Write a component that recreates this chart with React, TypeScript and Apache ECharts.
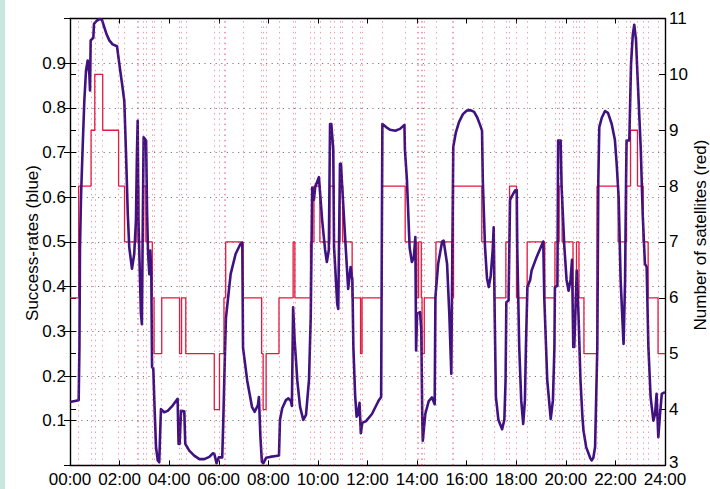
import React, { useEffect, useRef } from "react";
import * as echarts from "echarts";

const hourTicks = ["00:00", "02:00", "04:00", "06:00", "08:00", "10:00", "12:00", "14:00", "16:00", "18:00", "20:00", "22:00", "24:00"];

const blueTime = [
  0, 0.35, 0.38, 0.403, 0.444, 0.511, 0.578, 0.645, 0.713, 0.78, 0.807, 0.834, 0.941, 0.968, 1.075, 1.21, 1.29, 1.385, 1.48, 1.586,
  1.72, 1.896, 1.99, 2.1, 2.19, 2.26, 2.33, 2.39, 2.5, 2.59, 2.66, 2.7, 2.73, 2.76, 2.86, 2.9, 2.94, 2.97, 3.07, 3.11,
  3.15, 3.2, 3.24, 3.28, 3.31, 3.36, 3.42, 3.47, 3.54, 3.6, 3.64, 3.67, 3.8, 3.94, 4.14, 4.34, 4.38, 4.42, 4.48, 4.61,
  4.65, 4.81, 5.01, 5.22, 5.42, 5.62, 5.76, 5.82, 5.91, 6.0, 6.14, 6.18, 6.24, 6.29, 6.35, 6.48, 6.68, 6.88, 6.95, 6.98,
  7.15, 7.34, 7.45, 7.58, 7.62, 7.68, 7.74, 7.8, 7.91, 8.07, 8.31, 8.43, 8.47, 8.56, 8.71, 8.81, 8.91, 8.95, 9.0, 9.06,
  9.17, 9.28, 9.41, 9.52, 9.57, 9.64, 9.71, 9.77, 9.84, 9.89, 10.04, 10.17, 10.29, 10.36, 10.44, 10.49, 10.54, 10.62, 10.65, 10.78,
  10.82, 10.89, 10.93, 10.98, 11.12, 11.22, 11.32, 11.39, 11.43, 11.5, 11.56, 11.6, 11.68, 11.73, 11.79, 11.94, 12.18, 12.34, 12.46, 12.55,
  12.6, 12.75, 12.91, 13.12, 13.31, 13.49, 13.51, 13.59, 13.7, 13.79, 13.87, 13.93, 13.96, 14.0, 14.12, 14.17, 14.21, 14.23, 14.33, 14.47,
  14.6, 14.71, 14.74, 14.85, 15.01, 15.07, 15.21, 15.3, 15.38, 15.46, 15.56, 15.69, 15.85, 16.01, 16.15, 16.3, 16.43, 16.54, 16.62, 16.65,
  16.74, 16.82, 16.89, 16.97, 17.05, 17.09, 17.13, 17.18, 17.28, 17.43, 17.52, 17.57, 17.6, 17.69, 17.75, 17.83, 17.95, 18.02, 18.04, 18.12,
  18.2, 18.28, 18.35, 18.39, 18.45, 18.56, 18.62, 18.82, 19.09, 19.13, 19.25, 19.39, 19.48, 19.54, 19.56, 19.66, 19.69, 19.79, 19.83, 19.94,
  20.03, 20.11, 20.19, 20.25, 20.3, 20.34, 20.44, 20.51, 20.59, 20.67, 20.71, 20.82, 20.98, 21.04, 21.11, 21.18, 21.27, 21.31, 21.35, 21.45,
  21.58, 21.7, 21.85, 21.98, 22.05, 22.13, 22.21, 22.32, 22.33, 22.39, 22.43, 22.45, 22.56, 22.63, 22.7, 22.76, 22.83, 22.9, 23.02, 23.1,
  23.19, 23.26, 23.33, 23.42, 23.53, 23.6, 23.66, 23.73, 23.8, 23.87, 24.0,
];

const blueRate = [
  0.142, 0.146, 0.264, 0.488, 0.6, 0.712, 0.816, 0.883, 0.906, 0.876, 0.839, 0.951, 0.957, 0.988, 0.995, 0.999, 0.997, 0.98, 0.964, 0.951,
  0.942, 0.938, 0.898, 0.854, 0.816, 0.697, 0.563, 0.488, 0.44, 0.473, 0.548, 0.697, 0.771, 0.55, 0.34, 0.316, 0.563, 0.734, 0.727, 0.563,
  0.473, 0.428, 0.481, 0.428, 0.22, 0.216, 0.115, 0.041, 0.011, 0.007, 0.078, 0.126, 0.119, 0.122, 0.134, 0.149, 0.048, 0.048, 0.122, 0.121,
  0.048, 0.033, 0.022, 0.014, 0.014, 0.019, 0.027, 0.026, 0.005, 0.018, 0.018, 0.093, 0.229, 0.33, 0.361, 0.428, 0.473, 0.496, 0.498, 0.263,
  0.189, 0.131, 0.12, 0.135, 0.153, 0.064, 0.008, 0.005, 0.017, 0.019, 0.021, 0.022, 0.102, 0.128, 0.146, 0.15, 0.144, 0.133, 0.354, 0.281,
  0.189, 0.131, 0.102, 0.113, 0.146, 0.191, 0.331, 0.622, 0.594, 0.623, 0.645, 0.549, 0.482, 0.455, 0.482, 0.764, 0.764, 0.706, 0.489, 0.361,
  0.35, 0.675, 0.675, 0.623, 0.489, 0.395, 0.444, 0.415, 0.265, 0.158, 0.109, 0.112, 0.14, 0.072, 0.095, 0.099, 0.115, 0.133, 0.146, 0.153,
  0.764, 0.757, 0.751, 0.749, 0.753, 0.762, 0.706, 0.639, 0.487, 0.455, 0.466, 0.511, 0.257, 0.339, 0.343, 0.303, 0.102, 0.055, 0.115, 0.144,
  0.152, 0.137, 0.377, 0.451, 0.501, 0.503, 0.451, 0.339, 0.205, 0.713, 0.744, 0.768, 0.786, 0.794, 0.795, 0.791, 0.778, 0.762, 0.749, 0.639,
  0.489, 0.419, 0.399, 0.424, 0.482, 0.533, 0.339, 0.153, 0.102, 0.081, 0.102, 0.191, 0.365, 0.369, 0.594, 0.603, 0.615, 0.616, 0.489, 0.265,
  0.146, 0.093, 0.146, 0.265, 0.399, 0.415, 0.436, 0.466, 0.501, 0.377, 0.191, 0.104, 0.146, 0.265, 0.399, 0.402, 0.727, 0.727, 0.623, 0.489,
  0.415, 0.391, 0.415, 0.46, 0.265, 0.265, 0.436, 0.339, 0.191, 0.108, 0.079, 0.041, 0.017, 0.011, 0.017, 0.041, 0.265, 0.639, 0.757, 0.778,
  0.793, 0.789, 0.764, 0.728, 0.675, 0.6, 0.415, 0.281, 0.272, 0.415, 0.639, 0.727, 0.727, 0.898, 0.963, 0.986, 0.952, 0.861, 0.712, 0.563,
  0.451, 0.444, 0.265, 0.153, 0.1, 0.115, 0.16, 0.063, 0.115, 0.16, 0.164,
];

const satTime = [
  0, 0.35, 0.85, 1.0, 1.32, 1.96, 2.2, 2.7, 2.77, 2.97, 3.06, 3.32, 3.39, 3.7, 4.42, 4.5, 4.67, 5.82, 6.03, 6.21,
  6.28, 6.98, 7.73, 7.79, 7.91, 8.43, 9.0, 9.07, 9.7, 9.84, 10.08, 10.48, 10.65, 10.89, 11.0, 11.38, 11.72, 11.78, 12.58, 13.52,
  13.99, 14.06, 14.17, 14.2, 14.29, 14.76, 15.4, 15.47, 16.61, 17.12, 17.58, 17.73, 18.01, 18.44, 19.15, 19.56, 19.73, 19.85, 20.29, 20.43,
  20.53, 20.73, 21.26, 22.11, 22.45, 22.61, 22.89, 23.12, 23.32, 23.72,
];

const satCount = [
  6, 8, 9, 10, 9, 8, 7, 8, 7, 8, 7, 6, 5, 6, 5, 6, 5, 4, 5, 6,
  7, 6, 5, 4, 5, 6, 7, 6, 7, 8, 7, 8, 7, 8, 7, 6, 5, 6, 8, 7,
  6, 7, 6, 5, 6, 7, 6, 8, 7, 6, 7, 8, 6, 7, 6, 7, 8, 7, 6, 7,
  6, 5, 8, 7, 8, 9, 8, 7, 6, 5,
];

export default function App() {
  const ref = useRef<HTMLDivElement>(null);

  useEffect(() => {
    if (!ref.current) return;
    const chart = echarts.init(ref.current, undefined, { renderer: "svg" });
    const FONT = "'Liberation Sans', Arial, Helvetica, sans-serif";

    const blueData = blueTime.map((t, i) => [t, blueRate[i]]);
    const redData = satTime.map((t, i) => [t, satCount[i]]);
    redData.push([24, satCount[satCount.length - 1]]);
    const vlines = satTime.slice(1).map((t) => ({ xAxis: t }));

    const axisLine = { show: true, onZero: false, lineStyle: { color: "#000", width: 1.4 } };
    const tick = { show: true, inside: true, length: 6, lineStyle: { color: "#000", width: 1 } };
    const labelBase = { fontSize: 17, color: "#000", fontFamily: FONT, lineHeight: 13 };

    chart.setOption({
      animation: false,
      backgroundColor: "#ffffff",
      grid: { left: 70, right: 45, top: 18.5, bottom: 23.6, containLabel: false },
      xAxis: [
        {
          type: "value", min: 0, max: 24, interval: 2, position: "bottom",
          axisLine, axisTick: { ...tick, length: 5 }, splitLine: { show: false },
          axisLabel: { ...labelBase, margin: 7.5, formatter: (v: number) => hourTicks[Math.round(v / 2)] },
        },
        {
          type: "value", min: 0, max: 24, interval: 2, position: "top",
          axisLine, axisTick: { ...tick, length: 5 }, splitLine: { show: false }, axisLabel: { show: false },
        },
      ],
      yAxis: [
        {
          type: "value", min: 0, max: 1, interval: 0.1, position: "left",
          axisLine, axisTick: tick,
          axisLabel: { ...labelBase, margin: 4, formatter: (v: number) => (v < 0.05 || v > 0.95 ? "" : v.toFixed(1)) },
          splitLine: { show: true, lineStyle: { color: "#7a7a7a", width: 1, type: [1.2, 4.4] } },
        },
        {
          type: "value", min: 3, max: 11, interval: 1, position: "right",
          axisLine, axisTick: tick,
          axisLabel: {
            ...labelBase, margin: 4,
            formatter: (v: number) => (v === 3 ? "{lo|3}" : String(v)),
            rich: { lo: { fontSize: 17, fontFamily: FONT, color: "#000", lineHeight: 13, padding: [0, 0, 5, 0] } },
          },
          splitLine: { show: false },
        },
        {
          type: "value", min: 0, max: 1, interval: 0.1, position: "right",
          axisLine: { show: false }, axisTick: tick, axisLabel: { show: false }, splitLine: { show: false },
        },
        {
          type: "value", min: 3, max: 11, interval: 1, position: "left",
          axisLine: { show: false }, axisTick: tick, axisLabel: { show: false }, splitLine: { show: false },
        },
      ],
      series: [
        {
          name: "satellites", type: "line", yAxisIndex: 1, data: redData, step: "end",
          symbol: "none", showSymbol: false, z: 3,
          lineStyle: { color: "#e4173f", width: 1.3 },
          markLine: {
            silent: true, symbol: ["none", "none"], label: { show: false }, animation: false,
            lineStyle: { color: "rgba(232,40,80,0.45)", width: 1, type: [1.5, 3.9] },
            data: vlines,
          },
        },
        {
          name: "success", type: "line", yAxisIndex: 0, data: blueData,
          symbol: "none", showSymbol: false, z: 4,
          lineStyle: { color: "#3f1282", width: 2.6, join: "round" },
        },
      ],
      graphic: [
        { type: "rect", shape: { x: 0, y: 0, width: 5, height: 489 }, style: { fill: "#cbe5df" }, silent: true },
        {
          type: "text", x: 32, y: 243, rotation: Math.PI / 2,
          style: { text: "Success-rates (blue)", font: `17px ${FONT}`, fill: "#000", align: "center", verticalAlign: "middle" },
        },
        {
          type: "text", x: 700, y: 235, rotation: Math.PI / 2,
          style: { text: "Number of satellites (red)", font: `17px ${FONT}`, fill: "#000", align: "center", verticalAlign: "middle" },
        },
      ],
    });

    return () => chart.dispose();
  }, []);

  return <div ref={ref} style={{ position: "fixed", left: 0, top: 0, width: 710, height: 489 }} />;
}
